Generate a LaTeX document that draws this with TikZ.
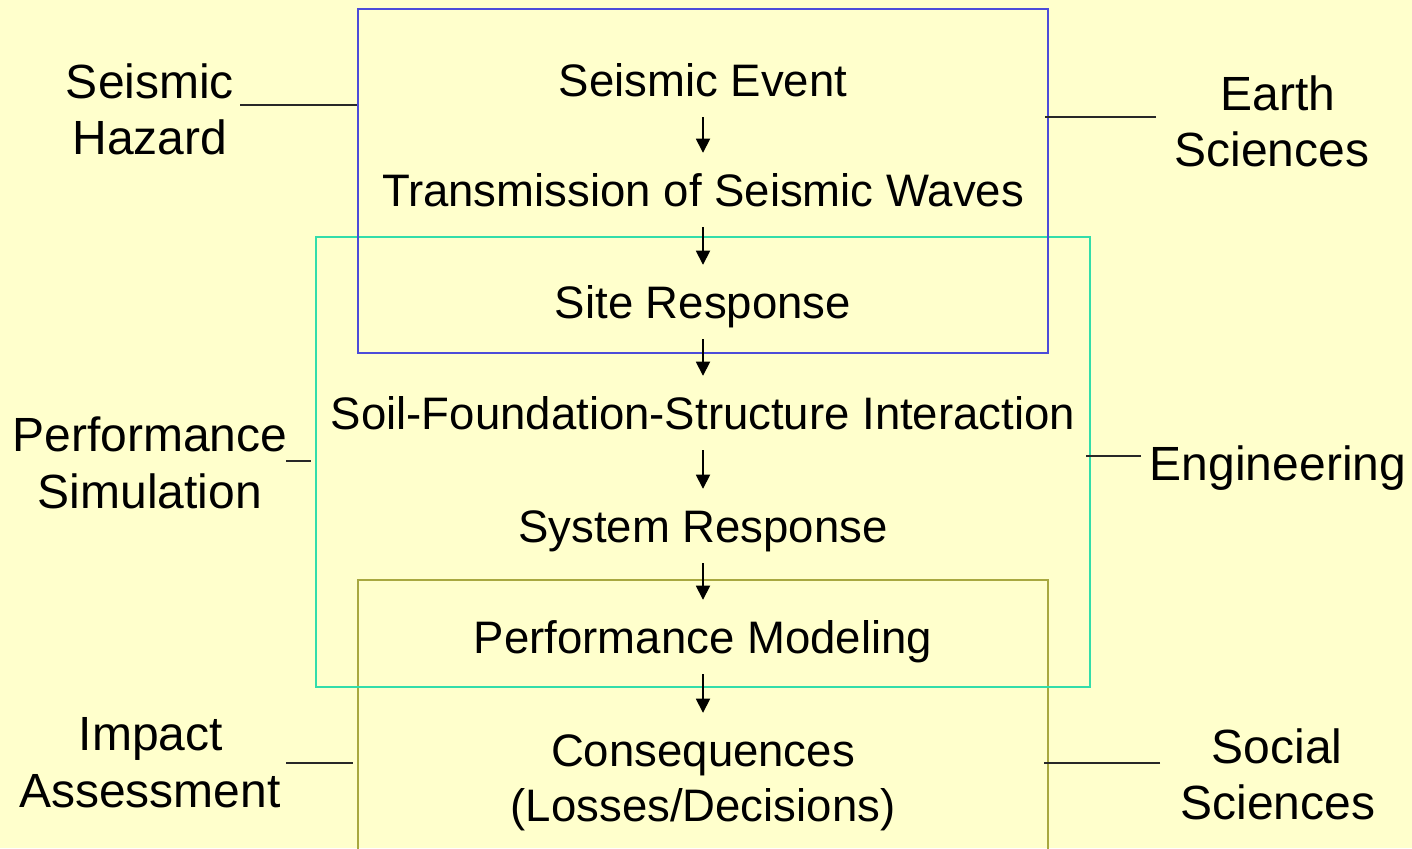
\documentclass[tikz,border=0pt]{standalone}
\usepackage{fontspec}
\setmainfont{Liberation Sans}
\usetikzlibrary{arrows.meta}
\definecolor{bgc}{RGB}{255,255,204}
\definecolor{bluec}{RGB}{76,76,217}
\definecolor{tealc}{RGB}{51,221,170}
\definecolor{olivec}{RGB}{168,168,64}
\definecolor{sidec}{RGB}{40,40,40}
\begin{document}
\begin{tikzpicture}[x=0.01cm,y=-0.01cm,
  every node/.style={font=\fontsize{12.95pt}{15.93pt}\selectfont, inner sep=0pt},
  stage/.style={anchor=base, text height=9.1pt, text depth=0pt, inner ysep=0.205cm},
  lbl/.style={anchor=base},
  sidelbl/.style={anchor=base, font=\fontsize{13.65pt}{15.93pt}\selectfont},
  flow/.style={-{Triangle[width=4pt,length=4pt]}, line width=0.45pt, draw=black},
  side/.style={draw=sidec, line width=0.45pt},
  area/.style={line width=0.5pt, fill=none}
]
\useasboundingbox (0,0) rectangle (1412,848);
\fill[bgc] (0,0) rectangle (1412,848);

% areas
\coordinate (olTL) at (358,580);
\coordinate (olTR) at (1048,580);
\coordinate (olBL) at (358,870);
\coordinate (olBR) at (1048,870);
\begin{scope}
\clip (0,0) rectangle (1412,848);
\draw[area, draw=olivec] (olBL) -- (olTL) -- (olTR) -- (olBR);
\end{scope}
\node[area, draw=tealc, minimum width=7.74cm, minimum height=4.5cm] (simbox) at (703,462) {};
\node[area, draw=bluec, minimum width=6.9cm, minimum height=3.44cm] (hazbox) at (703,181) {};

% stages
\node[stage] (s1) at (703,96) {Seismic Event};
\node[stage] (s2) at (703,206) {Transmission of Seismic Waves};
\node[stage] (s3) at (703,318) {Site Response};
\node[stage] (s4) at (703,429) {Soil-Foundation-Structure Interaction};
\node[stage] (s5) at (703,542) {System Response};
\node[stage] (s6) at (703,653) {Performance Modeling};
\node[stage] (s7) at (703,766) {Consequences};
\node[lbl] (s7b) at (703,821) {(Losses/Decisions)};

\draw[flow] (s1.south) -- (s2.north);
\draw[flow] (s2.south) -- (s3.north);
\draw[flow] (s3.south) -- (s4.north);
\draw[flow] (s4.south) -- (s5.north);
\draw[flow] (s5.south) -- (s6.north);
\draw[flow] (s6.south) -- (s7.north);

% side labels
\node[sidelbl] (hz1) at (150,98) {Seismic};
\node[sidelbl] (hz2) at (150,154) {Hazard};
\node[sidelbl] (es1) at (1278,110) {Earth};
\node[sidelbl] (es2) at (1272,166) {Sciences};
\node[sidelbl] (ps1) at (150,451) {Performance};
\node[sidelbl] (ps2) at (150,508) {Simulation};
\node[sidelbl] (en) at (1278,480) {Engineering};
\node[sidelbl] (ia1) at (151,750) {Impact};
\node[sidelbl] (ia2) at (150,807) {Assessment};
\node[sidelbl] (ss1) at (1277,763) {Social};
\node[sidelbl] (ss2) at (1278,819) {Sciences};

% side connectors
\coordinate (hzL) at (240,105);
\draw[side] (hzL) -- (hzL -| hazbox.west);
\coordinate (esR) at (1156,117);
\coordinate (esE) at (1045,117);
\draw[side] (esR) -- (esE);
\coordinate (psL) at (286,461);
\coordinate (psE) at (311,461);
\draw[side] (psL) -- (psE);
\coordinate (enR) at (1141,456);
\coordinate (enE) at (1086,456);
\draw[side] (enR) -- (enE);
\coordinate (iaL) at (286,763);
\coordinate (iaE) at (353,763);
\draw[side] (iaL) -- (iaE);
\coordinate (ssR) at (1160,763);
\coordinate (ssE) at (1044,763);
\draw[side] (ssR) -- (ssE);
\end{tikzpicture}
\end{document}
